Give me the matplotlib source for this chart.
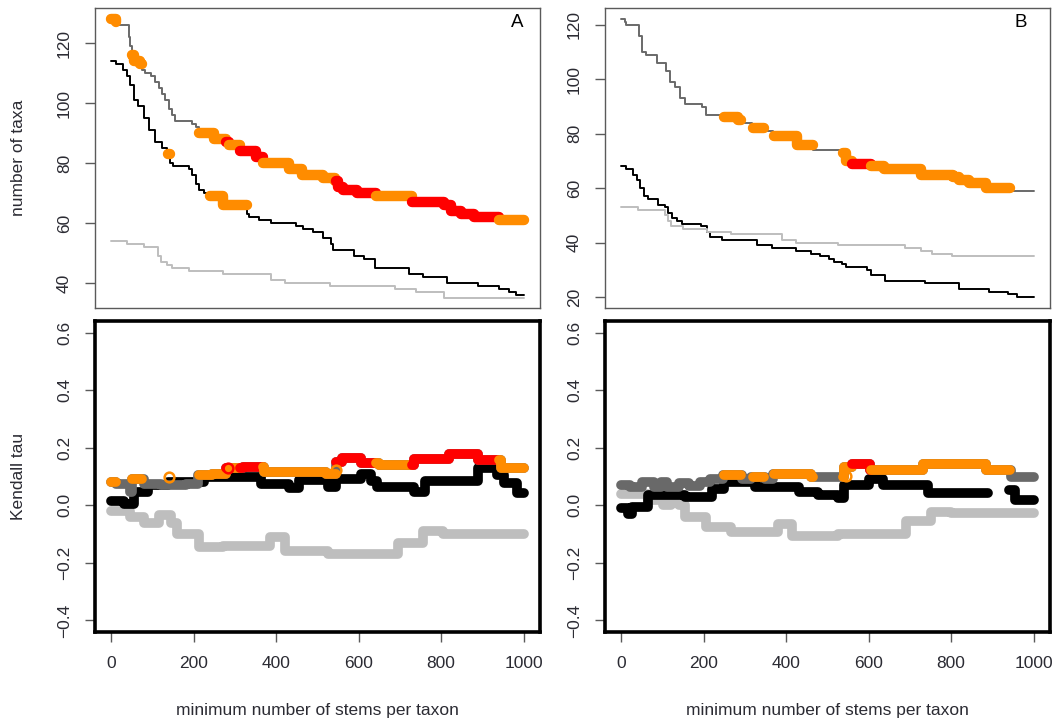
import numpy as np
import matplotlib.pyplot as plt

plt.rcParams['font.family'] = ['Liberation Sans', 'DejaVu Sans']

ORANGE = '#FF8C00'
RED = '#FF0000'
DGRAY = '#696969'
LGRAY = '#BEBEBE'
TXT = '#2b2b33'
AXC = '#5a5a5a'

# --- number of taxa vs. minimum stems per taxon (step breakpoints) ---
taxaA_dark_x = [0, 10, 15, 42, 46, 50, 55, 68, 75, 82, 95, 105, 115, 122, 130, 140, 147, 153, 196, 206,
                213, 250, 278, 285, 313, 350, 367, 430, 463, 513, 543, 550, 563, 597, 643, 730, 806, 823, 848, 881,
                940, 1000]
taxaA_dark_y = [128, 127, 126, 122, 119, 116, 114, 113, 111, 110, 109, 107, 105, 103, 101, 98, 96, 94, 93, 92,
                90, 88, 87, 86, 84, 82, 80, 78, 76, 75, 74, 72, 71, 70, 69, 67, 66, 64, 63, 62,
                61, 61]
taxaA_black_x = [0, 10, 29, 38, 46, 54, 65, 78, 90, 105, 122, 135, 142, 150, 188, 196, 205, 213, 225, 238,
                 271, 330, 334, 358, 388, 447, 464, 489, 514, 532, 538, 589, 614, 639, 723, 756, 814, 890, 940, 965,
                 981, 1000]
taxaA_black_y = [114, 113, 111, 109, 106, 101, 99, 95, 91, 87, 85, 83, 80, 79, 78, 76, 73, 71, 70, 69,
                 66, 63, 62, 61, 60, 59, 58, 57, 55, 53, 51, 49, 48, 45, 43, 42, 40, 39, 38, 37,
                 36, 36]
taxaA_light_x = [0, 38, 79, 113, 121, 134, 146, 188, 271, 388, 422, 530, 689, 739, 806, 1000]
taxaA_light_y = [54, 53, 52, 49, 47, 46, 45, 44, 43, 41, 40, 39, 38, 37, 35, 35]

taxaB_dark_x = [0, 8, 12, 42, 50, 60, 85, 108, 118, 130, 143, 155, 195, 205, 249, 282, 290, 317, 345, 367,
                425, 464, 536, 545, 560, 605, 638, 728, 804, 819, 843, 884, 942, 1000]
taxaB_dark_y = [122, 121, 120, 116, 110, 109, 106, 103, 99, 97, 93, 91, 90, 87, 86, 85, 84, 82, 81, 79,
                76, 74, 73, 70, 69, 68, 67, 65, 64, 63, 62, 60, 59, 59]
taxaB_black_x = [0, 10, 28, 38, 46, 55, 65, 88, 105, 113, 123, 135, 146, 193, 208, 216, 245, 328, 365, 423,
                 460, 482, 503, 515, 534, 546, 596, 606, 639, 736, 818, 893, 938, 959, 1000]
taxaB_black_y = [68, 67, 65, 63, 60, 57, 56, 54, 53, 51, 49, 48, 47, 46, 44, 42, 41, 39, 38, 37,
                 36, 35, 34, 33, 32, 31, 30, 28, 26, 25, 23, 22, 21, 20, 20]
taxaB_light_x = [0, 39, 105, 113, 119, 150, 208, 266, 389, 423, 526, 687, 728, 753, 802, 1000]
taxaB_light_y = [53, 52, 50, 48, 46, 45, 44, 43, 41, 40, 39, 38, 37, 36, 35, 35]

# --- Kendall tau vs. minimum stems per taxon ---
tauA_light_x = [0, 45, 80, 115, 145, 160, 212, 270, 385, 420, 525, 695, 755, 805, 1000]
tauA_light_y = [-0.02, -0.04, -0.06, -0.035, -0.06, -0.10, -0.145, -0.14, -0.11, -0.16, -0.17, -0.13, -0.09,
                -0.10, -0.10]
tauA_black_x = [0, 30, 55, 88, 137, 225, 363, 430, 455, 525, 545, 605, 630, 645, 735, 760, 890, 935, 952, 985,
                1000]
tauA_black_y = [0.015, 0.005, 0.045, 0.07, 0.08, 0.10, 0.075, 0.06, 0.087, 0.065, 0.09, 0.11, 0.085, 0.065,
                0.047, 0.084, 0.13, 0.105, 0.078, 0.044, 0.044]
tauA_dark_x = [0, 12, 45, 50, 80, 120, 180, 210, 245, 278, 320, 370, 520, 546, 560, 605, 650, 735, 820, 890,
               945, 1000]
tauA_dark_y = [0.08, 0.075, 0.045, 0.09, 0.075, 0.07, 0.075, 0.105, 0.11, 0.128, 0.133, 0.115, 0.11, 0.15,
               0.165, 0.147, 0.14, 0.162, 0.177, 0.156, 0.128, 0.128]

tauB_light_x = [0, 65, 100, 120, 140, 155, 206, 265, 380, 415, 525, 690, 752, 800, 1000]
tauB_light_y = [0.04, 0.02, 0.0, 0.03, 0.0, -0.04, -0.076, -0.094, -0.066, -0.108, -0.099, -0.056, -0.022,
                -0.028, -0.028]
tauB_black_x = [0, 15, 25, 65, 155, 220, 250, 325, 430, 478, 525, 540, 600, 635, 745, 890, 940, 955, 1000]
tauB_black_y = [-0.01, -0.03, -0.005, 0.035, 0.028, 0.058, 0.08, 0.064, 0.047, 0.036, 0.024, 0.07, 0.09, 0.07,
                0.041, np.nan, 0.053, 0.018, 0.018]
tauB_dark_x = [0, 20, 50, 80, 95, 110, 140, 165, 190, 215, 247, 292, 315, 348, 368, 460, 540, 560, 603, 732,
               885, 945, 1000]
tauB_dark_y = [0.072, 0.062, 0.08, 0.065, 0.08, 0.062, 0.078, 0.068, 0.08, 0.09, 0.105, 0.09, 0.1, 0.09, 0.108,
               0.099, 0.133, 0.143, 0.122, 0.142, 0.124, 0.097, 0.097]

# significance runs (start, end, colour) on the dark series
sigA_start = [0, 50, 213, 278, 285, 313, 367, 546, 643, 730, 940]
sigA_end = [12, 75, 278, 285, 313, 367, 546, 643, 730, 940, 1000]
sigA_col = ['o', 'o', 'o', 'r', 'o', 'r', 'o', 'r', 'o', 'r', 'o']
sigA_black_start = [136, 238]
sigA_black_end = [141, 330]

sigB_start = [249, 319, 369, 538, 560, 605]
sigB_end = [290, 345, 464, 560, 605, 942]
sigB_col = ['o', 'o', 'o', 'o', 'r', 'o']

# single points drawn as open rings in the tau panels
ringA_x = [140, 282, 545]
ringA_y = [0.10, 0.128, 0.124]
ringA_col = ['o', 'r', 'o']
ringB_x = [545]
ringB_y = [0.102]
ringB_col = ['o']

COLS = {'o': ORANGE, 'r': RED}

W, H = 1055, 722
fig = plt.figure(figsize=(W / 100, H / 100), dpi=100)


def box(l, t, r, b):
    return [l / W, 1 - b / H, (r - l) / W, (b - t) / H]


def run_slice(xs, ys, x0, x1):
    xs = np.asarray(xs, float)
    ys = np.asarray(ys, float)
    i0 = np.searchsorted(xs, x0, side='right') - 1
    inner = (xs > x0) & (xs < x1)
    sx = np.concatenate([[x0], xs[inner], [x1]])
    last = ys[inner][-1] if inner.any() else ys[i0]
    sy = np.concatenate([[ys[i0]], ys[inner], [last]])
    return sx, sy


def stairs(ax, xs, ys, color, lw):
    ax.plot(xs, ys, drawstyle='steps-post', color=color, lw=lw,
            solid_capstyle='round', solid_joinstyle='round')


def highlight(ax, xs, ys, starts, ends, cols, lw):
    for x0, x1, c in zip(starts, ends, cols):
        sx, sy = run_slice(xs, ys, x0, x1)
        stairs(ax, sx, sy, COLS[c], lw)


def style_common(ax):
    ax.set_xlim(-40, 1040)
    ax.tick_params(axis='y', direction='out', length=7.5, width=1, color=AXC,
                   labelsize=12.5, labelcolor=TXT, pad=9, labelrotation=90)
    for lab in ax.get_yticklabels():
        lab.set_va('center')


def style_top(ax, ylim, yticks):
    ax.set_ylim(*ylim)
    ax.set_yticks(yticks)
    style_common(ax)
    ax.tick_params(axis='x', bottom=False, labelbottom=False)
    for s in ax.spines.values():
        s.set_color(AXC)
        s.set_linewidth(1.0)


def style_bottom(ax):
    ax.set_ylim(-0.44, 0.64)
    ax.set_yticks([-0.4, -0.2, 0.0, 0.2, 0.4, 0.6])
    ax.set_yticklabels(['\u22120.4', '\u22120.2', '0.0', '0.2', '0.4', '0.6'])
    ax.set_xticks([0, 200, 400, 600, 800, 1000])
    style_common(ax)
    ax.tick_params(axis='x', direction='out', length=7.5, width=1, color=AXC,
                   labelsize=12.5, labelcolor=TXT, pad=10)
    for s in ax.spines.values():
        s.set_color('black')
        s.set_linewidth(2.6)
    ax.set_xlabel('minimum number of stems per taxon', fontsize=12.5, color=TXT, va='center')
    ax.xaxis.set_label_coords(0.5, -0.251)


def left_label(ax, text):
    ax.set_ylabel(text, fontsize=12.5, color=TXT, va='center', ha='center')
    ax.yaxis.set_label_coords(-0.171, 0.5)


# ---- top panels: number of taxa ----
axA = fig.add_axes(box(95, 8, 540, 308))
stairs(axA, taxaA_dark_x, taxaA_dark_y, DGRAY, 1.4)
stairs(axA, taxaA_black_x, taxaA_black_y, 'black', 1.4)
stairs(axA, taxaA_light_x, taxaA_light_y, LGRAY, 1.4)
highlight(axA, taxaA_dark_x, taxaA_dark_y, sigA_start, sigA_end, sigA_col, 7.5)
highlight(axA, taxaA_black_x, taxaA_black_y, sigA_black_start, sigA_black_end, ['o', 'o'], 7.5)
style_top(axA, (31.8, 131.8), [40, 60, 80, 100, 120])
left_label(axA, 'number of taxa')
axA.text(0.948, 0.953, 'A', transform=axA.transAxes, fontsize=13.5, ha='center', va='center')

axB = fig.add_axes(box(605, 8, 1050, 308))
stairs(axB, taxaB_dark_x, taxaB_dark_y, DGRAY, 1.4)
stairs(axB, taxaB_black_x, taxaB_black_y, 'black', 1.4)
stairs(axB, taxaB_light_x, taxaB_light_y, LGRAY, 1.4)
highlight(axB, taxaB_dark_x, taxaB_dark_y, sigB_start, sigB_end, sigB_col, 7.5)
style_top(axB, (16.0, 126.2), [20, 40, 60, 80, 100, 120])
axB.text(0.935, 0.953, 'B', transform=axB.transAxes, fontsize=13.5, ha='center', va='center')

# ---- bottom panels: Kendall tau ----
axC = fig.add_axes(box(95, 321, 540, 632))
stairs(axC, tauA_light_x, tauA_light_y, LGRAY, 7)
stairs(axC, tauA_black_x, tauA_black_y, 'black', 7)
stairs(axC, tauA_dark_x, tauA_dark_y, DGRAY, 7)
highlight(axC, tauA_dark_x, tauA_dark_y, sigA_start, sigA_end, sigA_col, 7)
for x, y, c in zip(ringA_x, ringA_y, ringA_col):
    axC.plot(x, y, 'o', ms=7, mfc='none', mec=COLS[c], mew=1.8)
style_bottom(axC)
left_label(axC, 'Kendall tau')

axD = fig.add_axes(box(605, 321, 1050, 632))
stairs(axD, tauB_light_x, tauB_light_y, LGRAY, 7)
stairs(axD, tauB_black_x, tauB_black_y, 'black', 7)
stairs(axD, tauB_dark_x, tauB_dark_y, DGRAY, 7)
highlight(axD, tauB_dark_x, tauB_dark_y, sigB_start, sigB_end, sigB_col, 7)
for x, y, c in zip(ringB_x, ringB_y, ringB_col):
    axD.plot(x, y, 'o', ms=7, mfc='none', mec=COLS[c], mew=1.8)
style_bottom(axD)

fig.savefig('out.png', dpi=100)
